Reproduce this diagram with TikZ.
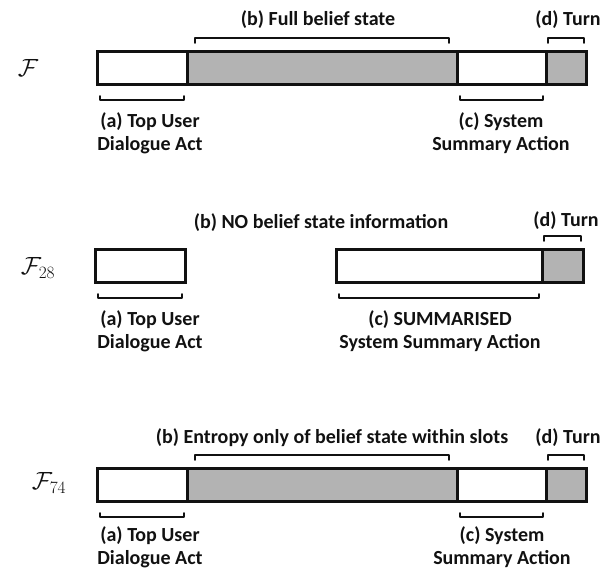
\documentclass[tikz,border=0pt]{standalone}
\usepackage{fontspec}
\setsansfont{Carlito}
\usetikzlibrary{positioning}
\definecolor{featInk}{HTML}{111111}
\definecolor{featGray}{HTML}{B3B3B3}
\tikzset{
  every picture/.style={font=\sffamily\bfseries\fontsize{20}{23}\selectfont, text=featInk},
  feat seg/.style={draw=featInk, line width=3pt, fill=white, inner sep=0pt,
    outer sep=0pt, minimum height=33pt},
  feat shaded/.style={feat seg, fill=featGray},
  feat brace/.style={draw=featInk, line width=1.8pt, line cap=round, line join=round},
  feat label/.style={align=center, inner sep=0pt},
  feat name/.style={inner sep=0pt, font=\fontsize{27}{27}\selectfont}
}

\begin{document}
\begin{tikzpicture}[x=1pt,y=-1pt]
  \useasboundingbox (0,0) rectangle (613,571);
  % full feature set
  \node[feat name] (f1) at (28,68) {$\mathcal{F}$};
  \node[feat seg,     minimum width=90pt]  (a1) at (142,67.5) {};
  \node[feat shaded,  minimum width=270pt] (b1) at (322,67.5) {};
  \node[feat seg,     minimum width=89pt]  (c1) at (501.5,67.5) {};
  \node[feat shaded,  minimum width=40pt]  (d1) at (566,67.5) {};
  \node[feat label] (lb1) at (318,20) {(b) Full belief state};
  \node[feat label] (ld1) at (568,20) {(d) Turn};
  \node[feat label] (la1) at (150,133.5) {(a) Top User\\Dialogue Act};
  \node[feat label] (lc1) at (501,133.5) {(c) System\\Summary Action};
  % 28 features
  \node[feat name] (f2) at (38,268) {$\mathcal{F}_{28}$};
  \node[feat seg,     minimum width=90pt]  (a2) at (140,265.5) {};
  \node[feat seg,     minimum width=206pt] (c2) at (439,265.5) {};
  \node[feat shaded,  minimum width=41pt]  (d2) at (562.5,265.5) {};
  \node[feat label] (lb2) at (321,223) {(b) NO belief state information};
  \node[feat label] (ld2) at (566,221) {(d) Turn};
  \node[feat label] (la2) at (150,331) {(a) Top User\\Dialogue Act};
  \node[feat label] (lc2) at (440,331) {(c) SUMMARISED\\System Summary Action};
  % 74 features
  \node[feat name] (f3) at (49,483) {$\mathcal{F}_{74}$};
  \node[feat seg,     minimum width=90pt]  (a3) at (142,484.5) {};
  \node[feat shaded,  minimum width=270pt] (b3) at (322,484.5) {};
  \node[feat seg,     minimum width=89pt]  (c3) at (501.5,484.5) {};
  \node[feat shaded,  minimum width=40pt]  (d3) at (566,484.5) {};
  \node[feat label] (lb3) at (332,438) {(b) Entropy only of belief state within slots};
  \node[feat label] (ld3) at (568,438) {(d) Turn};
  \node[feat label] (la3) at (150,547) {(a) Top User\\Dialogue Act};
  \node[feat label] (lc3) at (502,547) {(c) System\\Summary Action};
  % brackets
  \foreach \n/\i in {b1/8,d1/2,d2/2,b3/8,d3/2}
    \draw[feat brace] ([xshift=\i pt,yshift=8pt]\n.north west) -- ++(0,5pt)
      -| ([xshift=-\i pt,yshift=8pt]\n.north east);
  \foreach \n in {a1,c1,a2,c2,a3,c3}
    \draw[feat brace] ([xshift=3pt,yshift=-12pt]\n.south west) -- ++(0,-4pt)
      -| ([xshift=-3pt,yshift=-12pt]\n.south east);
\end{tikzpicture}
\end{document}
